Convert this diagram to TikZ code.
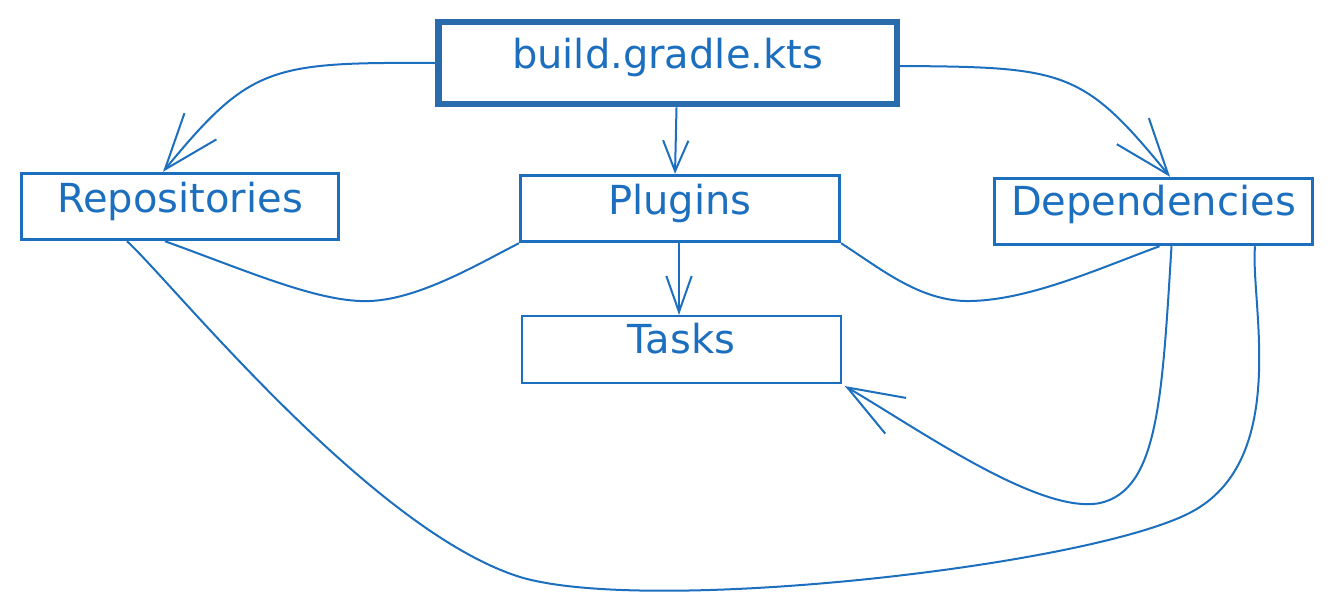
\documentclass[tikz,border=0pt]{standalone}
\usepackage{fontspec}
\setmainfont{DejaVu Sans}
\usetikzlibrary{arrows.meta}
\definecolor{txtblue}{RGB}{28,111,190}
\definecolor{mainblue}{RGB}{42,107,172}
\begin{document}
\begin{tikzpicture}[x=0.75pt,y=-0.75pt,
  box/.style={draw=txtblue, text=txtblue, line width=2.6pt, inner xsep=0pt, inner ysep=0pt,
    minimum height=0pt, font=\fontsize{30pt}{36pt}\selectfont},
  conn/.style={draw=txtblue, line width=1.5pt, line join=round},
  bigtip/.style={-{Straight Barb[length=42pt,width=31pt,line join=miter]}},
  smalltip/.style={-{Straight Barb[length=23pt,width=19pt]}},
  midtip/.style={-{Straight Barb[length=27pt,width=19pt]}}]
\useasboundingbox (0,0) rectangle (1334,612);

\node[box, draw=mainblue, line width=5pt, minimum width=344pt, text height=34.5pt, text depth=27pt] (build) at (667.5,63) {build.gradle.kts};
\node[box, minimum width=238pt, text height=28.9pt, text depth=20.6pt] (rep) at (180,206.5) {Repositories};
\node[box, minimum width=239pt, text height=28.9pt, text depth=20.6pt] (plug) at (680,208.5) {Plugins};
\node[box, minimum width=238.5pt, text height=27.4pt, text depth=22.1pt] (dep) at (1153.5,211.5) {Dependencies};
\node[box, line width=1.5pt, minimum width=239pt, text height=28.5pt, text depth=21.8pt] (tasks) at (681.5,349.5) {Tasks};

% build -> repositories
\draw[conn, bigtip] (build.west) .. controls (270,62) and (250,66) .. ([shift={(-17,0)}]rep.north);
% build -> plugins
\draw[conn, smalltip] ([shift={(9,0)}]build.south) -- ([shift={(-5,0)}]plug.north);
% build -> dependencies
\draw[conn, bigtip] ([shift={(0,3)}]build.east) .. controls (1065,67) and (1083,70) .. ([shift={(16.5,0)}]dep.north);
% plugins -> tasks
\draw[conn, midtip] ([shift={(-1,0)}]plug.south) -- ([shift={(-2.5,0)}]tasks.north);
% repositories -- plugins
\draw[conn] ([shift={(-15,0)}]rep.south) .. controls (250,272) and (320,303) .. (370,301)
  .. controls (420,299) and (480,263) .. (plug.south west);
% plugins -- dependencies
\draw[conn] (plug.south east) .. controls (880,268) and (920,302) .. (970,301)
  .. controls (1030,300) and (1100,268) .. ([shift={(6,0)}]dep.south);
% dependencies -> tasks
\draw[conn, bigtip] ([shift={(18,0)}]dep.south) .. controls (1162,400) and (1158,490) .. (1100,503)
  .. controls (1040,515) and (920,430) .. ([shift={(3,2)}]tasks.south east);
% repositories -- dependencies
\draw[conn] ([shift={(-53,0)}]rep.south) .. controls (170,280) and (370,530) .. (520,577)
  .. controls (650,616) and (1100,565) .. (1195,510)
  .. controls (1290,455) and (1250,300) .. ([shift={(101.5,0)}]dep.south);
\end{tikzpicture}
\end{document}
